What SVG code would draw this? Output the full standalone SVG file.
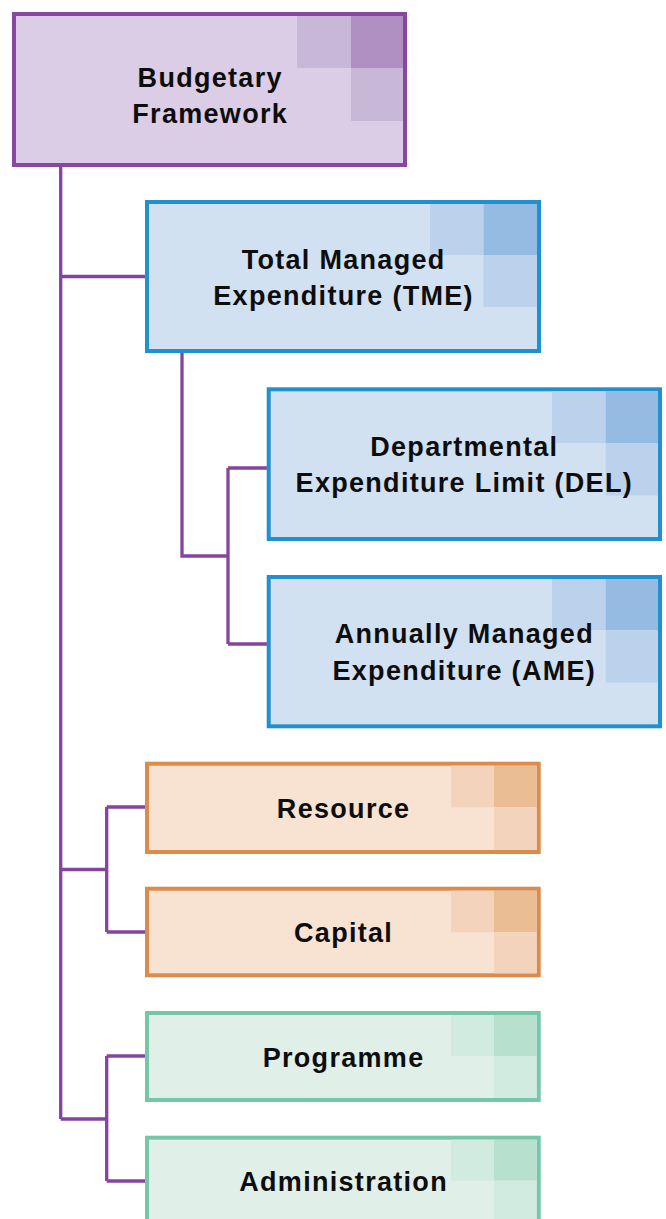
<svg xmlns="http://www.w3.org/2000/svg" width="666" height="1219" viewBox="0 0 666 1219">
<style>
.t{font-family:"Liberation Sans",Arial,sans-serif;font-weight:bold;font-size:27px;letter-spacing:1.3px;fill:#0d0d0d;text-anchor:middle}
.conn{fill:none;stroke:#8445a0;stroke-width:3.3}
.pb{fill:#dbcde5;stroke:#8746a0;stroke-width:4}
.bb{fill:#d1e1f1;stroke:#2190cf;stroke-width:4}
.ob{fill:#f8e3d2;stroke:#db8b4c;stroke-width:4}
.gb{fill:#e0f0e8;stroke:#74c8a8;stroke-width:4}
.pl{fill:#c9b7d8}.pd{fill:#b08fc2}
.bl{fill:#bcd2ec}.bd{fill:#95bbe3}
.ol{fill:#f3d3bb}.od{fill:#ebbd95}
.gl{fill:#d2ebe0}.gd{fill:#b8e0cf}
</style>
<g id="connectors">
<path class="conn" d="M60.7 165 V1119 M60.7 276.5 H147 M60.7 869.5 H106.7 M106.7 807 V932 M106.7 807 H147 M106.7 932 H147 M60.7 1119 H106.7 M106.7 1056 V1181 M106.7 1056 H147 M106.7 1181 H147"/>
<path class="conn" d="M182 351 V556 H228 M228 468 V644 M228 468 H268.7 M228 644 H268.7"/>
</g>
<g id="budgetary-framework">
<rect class="pb" x="14" y="14" width="391" height="151"/>
<rect class="pl" x="297" y="16" width="54" height="52"/>
<rect class="pd" x="351" y="16" width="52" height="52"/>
<rect class="pl" x="351" y="68" width="52" height="53"/>
<text class="t" x="210.2" y="87">Budgetary</text>
<text class="t" x="210.2" y="123">Framework</text>
</g>
<g id="tme">
<rect class="bb" x="147" y="202" width="392" height="149"/>
<rect class="bl" x="430" y="204" width="53.5" height="51"/>
<rect class="bd" x="483.5" y="204" width="53.5" height="51"/>
<rect class="bl" x="483.5" y="255" width="53.5" height="52"/>
<text class="t" x="343.6" y="269">Total Managed</text>
<text class="t" x="343.6" y="305">Expenditure (TME)</text>
</g>
<g id="del">
<rect class="bb" x="268.7" y="389.3" width="391.3" height="149.7"/>
<rect class="bl" x="552" y="391.3" width="53.7" height="51.7"/>
<rect class="bd" x="605.7" y="391.3" width="52.3" height="51.7"/>
<rect class="bl" x="605.7" y="443" width="52.3" height="52.5"/>
<text class="t" x="464.3" y="456">Departmental</text>
<text class="t" x="464.3" y="492">Expenditure Limit (DEL)</text>
</g>
<g id="ame">
<rect class="bb" x="268.7" y="577" width="391.3" height="149.3"/>
<rect class="bl" x="552" y="579" width="53.7" height="51"/>
<rect class="bd" x="605.7" y="579" width="52.3" height="51"/>
<rect class="bl" x="605.7" y="630" width="52.3" height="52.7"/>
<text class="t" x="464.3" y="643">Annually Managed</text>
<text class="t" x="464.3" y="680">Expenditure (AME)</text>
</g>
<g id="resource">
<rect class="ob" x="147" y="763.7" width="391.7" height="88.3"/>
<rect class="ol" x="451" y="765.7" width="43" height="41.6"/>
<rect class="od" x="494" y="765.7" width="42.7" height="41.6"/>
<rect class="ol" x="494" y="807.3" width="42.7" height="42.7"/>
<text class="t" x="343.6" y="818">Resource</text>
</g>
<g id="capital">
<rect class="ob" x="147" y="888.7" width="391.7" height="86.6"/>
<rect class="ol" x="451" y="890.7" width="43" height="41.6"/>
<rect class="od" x="494" y="890.7" width="42.7" height="41.6"/>
<rect class="ol" x="494" y="932.3" width="42.7" height="41"/>
<text class="t" x="343.6" y="942">Capital</text>
</g>
<g id="programme">
<rect class="gb" x="147" y="1013" width="391.7" height="87"/>
<rect class="gl" x="451" y="1015" width="43" height="41"/>
<rect class="gd" x="494" y="1015" width="42.7" height="41"/>
<rect class="gl" x="494" y="1056" width="42.7" height="42"/>
<text class="t" x="343.6" y="1067">Programme</text>
</g>
<g id="administration">
<rect class="gb" x="147" y="1137.7" width="391.7" height="88"/>
<rect class="gl" x="451" y="1139.7" width="43" height="41"/>
<rect class="gd" x="494" y="1139.7" width="42.7" height="41"/>
<rect class="gl" x="494" y="1180.7" width="42.7" height="43"/>
<text class="t" x="343.6" y="1191">Administration</text>
</g>
</svg>
